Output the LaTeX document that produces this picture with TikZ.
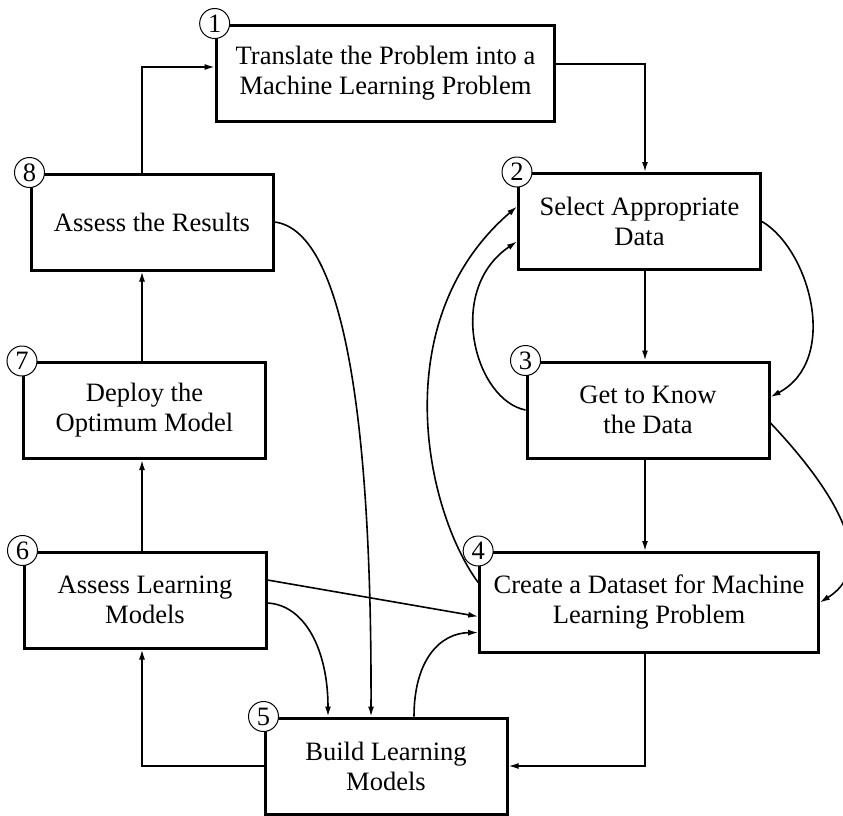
\documentclass[tikz,border=0pt]{standalone}
\usepackage{fontspec}
\setmainfont{Liberation Serif}
\usetikzlibrary{positioning}
\usetikzlibrary{calc}
\usetikzlibrary{arrows.meta}
\usetikzlibrary{shapes}

\begin{document}
\begin{tikzpicture}[
    x=0.75pt, y=-0.75pt,   % work on the pixel grid, y going down
    ]
% -------------------------------------------------
\tikzset{
  base/.style={draw, rectangle, align=center, font=\fontsize{19.9}{22.5}\selectfont},
  proc/.style={base, line width=2.25pt, minimum width=181.5pt, minimum height=72pt},
  wide/.style={proc, minimum width=254pt},
  num/.style={draw, circle, fill=white, line width=0.75pt, minimum size=22.5pt, inner sep=0pt, font=\fontsize{19.9}{22.5}\selectfont},
  line/.style={draw, line width=1.2pt, -{Latex[length=7.5pt, width=4.5pt]}}
}
% -------------------------------------------------
% Placing the nodes
\useasboundingbox (0,0) rectangle (843,815);

\node [wide] (p1) at (385.5,73) {Translate the Problem into a\\Machine Learning Problem};
\node [proc] (p2) at (639.5,221.5) {Select Appropriate\\Data};
\node [proc] (p3) at (648,410) {Get to Know\\the Data};
\node [wide, minimum height=75pt] (p4) at (649,602.5) {Create a Dataset for Machine\\Learning Problem};
\node [proc] (p5) at (386,766) {Build Learning\\Models};
\node [proc] (p6) at (145,600) {Assess Learning\\Models};
\node [proc] (p7) at (144.5,410.5) {Deploy the\\Optimum Model};
\node [proc] (p8) at (152,222) {Assess the Results};

\node [num] (c1) at (p1.north west) {1};
\node [num] (c2) at (p2.north west) {2};
\node [num] (c3) at (p3.north west) {3};
\node [num] (c4) at (p4.north west) {4};
\node [num] (c5) at (p5.north west) {5};
\node [num] (c6) at (p6.north west) {6};
\node [num] (c7) at (p7.north west) {7};
\node [num] (c8) at (p8.north west) {8};

\coordinate (xl) at (142,0); % left column of arrows
\coordinate (xr) at (645,0); % right column of arrows

% straight connectors
\path [line] (p8.north -| xl) |- ($(p1.west)+(0,-6)$);
\path [line] ($(p1.east)+(0,-9)$) -| (p2.north -| xr);
\path [line] (p2.south -| xr) -- (p3.north -| xr);
\path [line] (p3.south -| xr) -- (p4.north -| xr);
\path [line] (p4.south -| xr) |- (p5.east);
\path [line] (p5.west) -| (p6.south -| xl);
\path [line] (p6.north -| xl) -- (p7.south -| xl);
\path [line] (p7.north -| xl) -- (p8.south -| xl);
\path [line] ($(p6.east)+(0,-20)$) -- ($(p4.west)+(0,14)$);

% curved connectors
\path [line] (p2.east) .. controls (810,250) and (840,360) .. ($(p3.east)+(0,-13)$);
\path [line] ($(p3.east)+(0,13)$) .. controls (815,470) and (888,560) .. (p4.east);
\path [line] (p3.west) .. controls (475,400) and (445,290) .. ($(p2.west)+(0,20)$);
\path [line] ($(p4.west)+(0,-20)$) .. controls (425,510) and (385,320) .. ($(p2.west)+(0,-15)$);
\path [line] (p8.east) .. controls (340,230) and (372,400) .. ($(p5.north)+(-15,0)$);
\path [line] ($(p6.east)+(0,3)$) .. controls (305,605) and (328,650) .. ($(p5.north)+(-58,0)$);
\path [line] ($(p5.north)+(28,0)$) .. controls (414,660) and (440,633) .. ($(p4.west)+(0,30)$);

\end{tikzpicture}
\end{document}
